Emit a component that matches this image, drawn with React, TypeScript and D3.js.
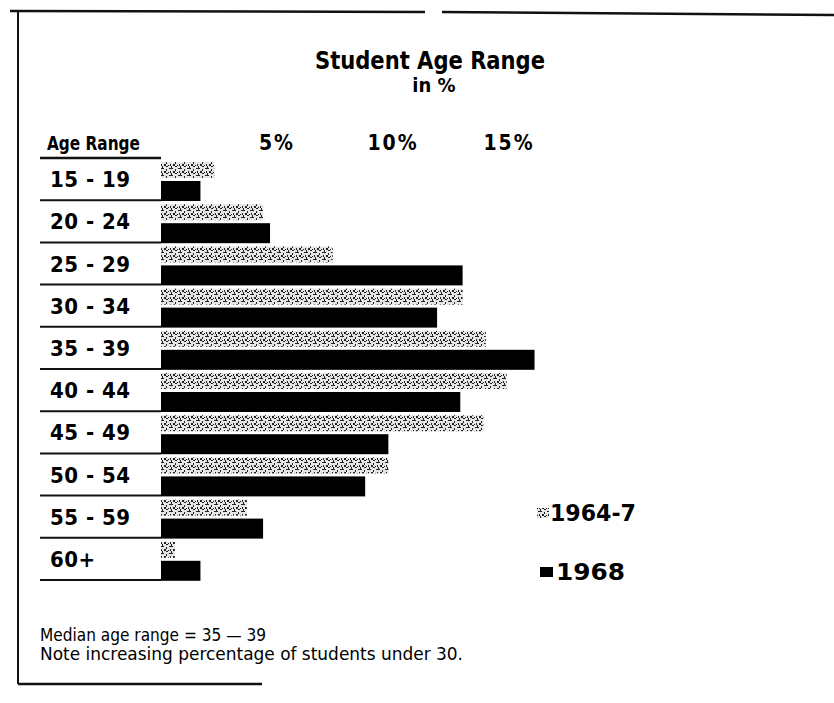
import { useEffect, useRef } from "react";
import * as d3 from "d3";

const ageRanges = ["15 - 19", "20 - 24", "25 - 29", "30 - 34", "35 - 39", "40 - 44", "45 - 49", "50 - 54", "55 - 59", "60+"];
const pct1964 = [2.3, 4.4, 7.4, 13.0, 14.0, 14.9, 13.9, 9.8, 3.7, 0.6];
const pct1968 = [1.7, 4.7, 13.0, 11.9, 16.1, 12.9, 9.8, 8.8, 4.4, 1.7];
const tickValues = [5, 10, 15];
const notes = ["Median age range = 35 \u2014 39", "Note increasing percentage of students under 30."];

const W = 834;
const H = 703;
const HEAD = "'DejaVu Sans Condensed', 'DejaVu Sans', sans-serif";

export default function App() {
  const ref = useRef<SVGSVGElement | null>(null);

  useEffect(() => {
    const svg = d3.select(ref.current!);
    svg.selectAll("*").remove();

    const x = d3.scaleLinear().domain([0, 15]).range([161, 509]);
    const y = d3.scaleBand<string>().domain(ageRanges).range([158, 580]);

    // stipple for the 1964-7 bars
    const pat = svg
      .append("defs")
      .append("pattern")
      .attr("id", "stip")
      .attr("patternUnits", "userSpaceOnUse")
      .attr("width", 9)
      .attr("height", 7);
    pat.append("rect").attr("width", 9).attr("height", 7).attr("fill", "#e6e6e6");
    const specks = [[0, 0, 2, 1], [4, 1, 1, 2], [7, 0, 2, 1], [2, 3, 2, 2], [6, 4, 1, 1], [0, 5, 1, 2], [4, 5, 2, 1], [8, 3, 1, 2]];
    specks.forEach(([a, b, w, h]) =>
      pat.append("rect").attr("x", a).attr("y", b).attr("width", w).attr("height", h).attr("fill", "#222")
    );

    // border (scan frame)
    const frame = svg.append("g").attr("stroke", "#111").attr("fill", "none");
    frame.append("line").attr("x1", 10).attr("y1", 11).attr("x2", 425).attr("y2", 12).attr("stroke-width", 2.5);
    frame.append("line").attr("x1", 442).attr("y1", 12).attr("x2", 834).attr("y2", 15).attr("stroke-width", 2.5);
    frame.append("line").attr("x1", 18).attr("y1", 11).attr("x2", 18).attr("y2", 684).attr("stroke-width", 2);
    frame.append("line").attr("x1", 18).attr("y1", 684).attr("x2", 262).attr("y2", 684).attr("stroke-width", 2.5);

    // title
    svg
      .append("text")
      .attr("x", 430)
      .attr("y", 69)
      .attr("text-anchor", "middle")
      .attr("font-family", HEAD)
      .attr("font-weight", "bold")
      .attr("font-size", 24)
      .attr("textLength", 230)
      .attr("lengthAdjust", "spacingAndGlyphs")
      .text("Student Age Range");
    svg
      .append("text")
      .attr("x", 434)
      .attr("y", 92)
      .attr("text-anchor", "middle")
      .attr("font-family", HEAD)
      .attr("font-weight", "bold")
      .attr("font-size", 20)
      .text("in %");

    // column header + ticks
    svg
      .append("text")
      .attr("x", 47)
      .attr("y", 150)
      .attr("font-family", HEAD)
      .attr("font-weight", "bold")
      .attr("font-size", 19)
      .attr("textLength", 93)
      .attr("lengthAdjust", "spacingAndGlyphs")
      .text("Age Range");
    svg.append("line").attr("x1", 40).attr("x2", 161).attr("y1", 158).attr("y2", 158).attr("stroke", "#111").attr("stroke-width", 2.5);

    svg
      .append("g")
      .selectAll("text")
      .data(tickValues)
      .join("text")
      .attr("x", (d) => x(d))
      .attr("y", 150)
      .attr("text-anchor", "middle")
      .attr("font-family", HEAD)
      .attr("font-weight", "bold")
      .attr("font-size", 21)
      .attr("letter-spacing", 2)
      .text((d) => `${d}%`);

    // row labels + underlines
    const rows = svg.append("g");
    rows
      .selectAll("text")
      .data(ageRanges)
      .join("text")
      .attr("x", 50)
      .attr("y", (d) => y(d)! + y.bandwidth() - 13)
      .attr("font-family", HEAD)
      .attr("font-weight", "bold")
      .attr("font-size", 22)
      .attr("letter-spacing", 0.5)
      .text((d) => d);
    rows
      .selectAll("line")
      .data(ageRanges)
      .join("line")
      .attr("x1", 40)
      .attr("x2", x(0))
      .attr("y1", (d) => y(d)! + y.bandwidth())
      .attr("y2", (d) => y(d)! + y.bandwidth())
      .attr("stroke", "#111")
      .attr("stroke-width", 2);

    // bars
    svg
      .append("g")
      .selectAll("rect")
      .data(ageRanges)
      .join("rect")
      .attr("x", x(0))
      .attr("y", (d) => y(d)! + 4)
      .attr("width", (_d, i) => x(pct1964[i]) - x(0))
      .attr("height", 16)
      .attr("fill", "url(#stip)");
    svg
      .append("g")
      .selectAll("rect")
      .data(ageRanges)
      .join("rect")
      .attr("x", x(0))
      .attr("y", (d) => y(d)! + 23)
      .attr("width", (_d, i) => x(pct1968[i]) - x(0))
      .attr("height", 20)
      .attr("fill", "#000");

    // legend
    const lg = svg.append("g").attr("font-family", HEAD).attr("font-weight", "bold").attr("font-size", 23);
    lg.append("rect").attr("x", 537).attr("y", 508).attr("width", 12).attr("height", 10).attr("fill", "url(#stip)");
    lg.append("text").attr("x", 550).attr("y", 521).attr("textLength", 86).attr("lengthAdjust", "spacingAndGlyphs").text("1964-7");
    lg.append("rect").attr("x", 540).attr("y", 567).attr("width", 13).attr("height", 10).attr("fill", "#000");
    lg.append("text").attr("x", 556).attr("y", 580).attr("textLength", 69).attr("lengthAdjust", "spacingAndGlyphs").text("1968");

    // notes
    svg
      .append("g")
      .selectAll("text")
      .data(notes)
      .join("text")
      .attr("x", 40)
      .attr("y", (_d, i) => 641 + i * 19)
      .attr("font-family", HEAD)
      .attr("font-size", 17)
      .attr("textLength", (_d, i) => (i === 0 ? 226 : 423))
      .attr("lengthAdjust", "spacingAndGlyphs")
      .text((d) => d);
  }, []);

  return (
    <svg
      ref={ref}
      width={W}
      height={H}
      viewBox={`0 0 ${W} ${H}`}
      style={{ position: "absolute", left: 0, top: 0, background: "#fff" }}
    />
  );
}
